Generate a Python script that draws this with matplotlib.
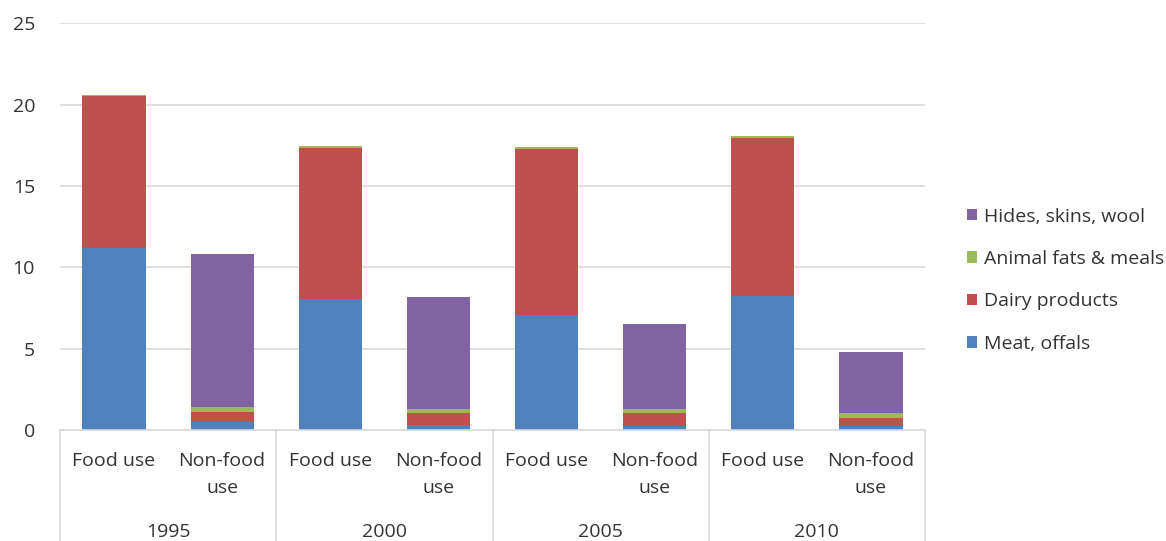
import matplotlib
matplotlib.use("Agg")
import matplotlib.pyplot as plt
from matplotlib.patches import Patch
import numpy as np

plt.rcParams['font.family'] = ['Open Sans', 'DejaVu Sans']

years = ["1995", "2000", "2005", "2010"]
uses = ["Food use", "Non-food\nuse"]

# values per bar, ordered 1995 food, 1995 non-food, 2000 food, ...
meat_offals = [11.19, 0.51, 8.03, 0.31, 7.07, 0.25, 8.26, 0.25]
dairy_products = [9.34, 0.60, 9.33, 0.71, 10.20, 0.77, 9.69, 0.51]
animal_fats_meals = [0.06, 0.28, 0.09, 0.25, 0.11, 0.25, 0.14, 0.26]
hides_skins_wool = [0.0, 9.43, 0.0, 6.88, 0.0, 5.22, 0.0, 3.77]

series = [
    ("Meat, offals", meat_offals, "#4F81BD"),
    ("Dairy products", dairy_products, "#C0504D"),
    ("Animal fats & meals", animal_fats_meals, "#9BBB59"),
    ("Hides, skins, wool", hides_skins_wool, "#8064A2"),
]

text_color = "#333333"
grid_color = "#D9D9D9"
fs = 14

fig = plt.figure(figsize=(11.66, 5.41), dpi=100)
ax = fig.add_axes([60 / 1166, 1 - 430 / 541, 865 / 1166, (430 - 23.3) / 541])

x = np.arange(len(meat_offals))
bottom = np.zeros(len(x))
handles = []
for name, vals, color in series:
    vals = np.array(vals)
    ax.bar(x, vals, width=0.585, bottom=bottom, color=color, zorder=3)
    bottom += vals
    handles.append(Patch(facecolor=color, label=name))

ax.set_xlim(-0.5, len(x) - 0.5)
ax.set_ylim(0, 25)
ax.set_yticks(np.arange(0, 26, 5))
ax.yaxis.grid(True, color=grid_color, linewidth=1.2, zorder=0)
ax.set_axisbelow(True)
for s in ax.spines.values():
    s.set_visible(False)
ax.tick_params(axis='y', length=0, pad=18, labelsize=fs, labelcolor=text_color)
ax.tick_params(axis='x', length=0, labelbottom=False)

# horizontal category axis line and group separators
trans = ax.get_xaxis_transform()
ax.plot([-0.5, len(x) - 0.5], [0, 0], transform=trans, color=grid_color,
        linewidth=1.2, clip_on=False, zorder=4)
for i in range(len(years) + 1):
    xs = -0.5 + 2 * i
    ax.plot([xs, xs], [0, -0.28], transform=trans, color=grid_color,
            linewidth=1.2, clip_on=False)

# use labels under each bar and year labels under each group
for i in x:
    ax.text(i, -0.055, uses[i % 2], transform=trans, ha='center', va='top',
            fontsize=fs, color=text_color, linespacing=1.6)
for j, yr in enumerate(years):
    ax.text(2 * j + 0.5, -0.25, yr, transform=trans, ha='center',
            va='center', fontsize=fs, color=text_color)

fig.legend(handles=handles[::-1], loc='upper left',
           bbox_to_anchor=(949 / 1166, 1 - 190 / 541), frameon=False,
           handlelength=0.55, handleheight=0.55, handletextpad=0.35,
           labelspacing=1.26, fontsize=fs, labelcolor=text_color)

fig.savefig("out.png", dpi=100, facecolor="white")
